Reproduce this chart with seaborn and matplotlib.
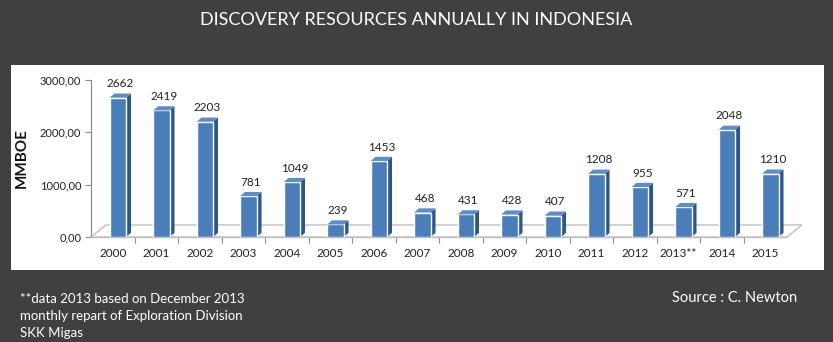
import matplotlib
matplotlib.use("Agg")
import matplotlib.pyplot as plt
import seaborn as sns
import pandas as pd
from matplotlib.patches import Polygon, Rectangle

years = ["2000", "2001", "2002", "2003", "2004", "2005", "2006", "2007",
         "2008", "2009", "2010", "2011", "2012", "2013**", "2014", "2015"]
values = [2662, 2419, 2203, 781, 1049, 239, 1453, 468, 431, 428, 407,
          1208, 955, 571, 2048, 1210]
yticks = [0, 1000, 2000, 3000]
ytick_labels = ["0,00", "1000,00", "2000,00", "3000,00"]

title = "DISCOVERY RESOURCES ANNUALLY IN INDONESIA"
note = "**data 2013 based on December 2013\nmonthly repart of Exploration Division\nSKK Migas"
source = "Source : C. Newton"

sns.set_theme(style="white")
plt.rcParams["font.family"] = ["Lato", "DejaVu Sans"]

BG = "#404040"
FRONT = "#4a7ebb"
SIDE = "#2d578a"
TOP = "#5b8dca"
FLOOR = "#bfbfbf"

fig = plt.figure(figsize=(8.33, 3.42), dpi=100, facecolor=BG)
W, H = 833, 342
fig.patches.append(Rectangle((11 / W, 1 - 270 / H), (824 - 11) / W, (270 - 65) / H,
                             transform=fig.transFigure, facecolor="white",
                             edgecolor="none", zorder=-10))

ax = fig.add_axes([91 / W, 1 - 237 / H, (787 - 91) / W, (237 - 80) / H])
ax.set_facecolor("none")
ax.set_zorder(2)

df = pd.DataFrame({"year": years, "value": values})
sns.barplot(data=df, x="year", y="value", color=FRONT, saturation=1,
            width=0.38, ax=ax, zorder=3)

ax.set_xlim(-0.5, len(years) - 0.5)
ax.set_ylim(0, 3000)

# floor (3D base)
fdx, fdy = 0.34, 230
x0, x1 = -0.5, len(years) - 0.5
floor = Polygon([(x0, 0), (x0 + fdx, fdy), (x1 + fdx, fdy), (x1, 0)], closed=True,
                facecolor="none", edgecolor=FLOOR, lw=1.0, zorder=1, clip_on=False)
ax.add_patch(floor)

# 3D faces (bars sit slightly back/right in perspective)
shift = 0.12
dx, dy = 0.11, 80
for p, v in zip(ax.patches[:len(values)], values):
    p.set_x(p.get_x() + shift)
    x = p.get_x()
    w = p.get_width()
    h = p.get_height()
    side = Polygon([(x + w, 0), (x + w + dx, dy), (x + w + dx, h + dy), (x + w, h)],
                   closed=True, facecolor=SIDE, edgecolor="none", zorder=2.9, clip_on=False)
    top = Polygon([(x, h), (x + dx, h + dy), (x + w + dx, h + dy), (x + w, h)],
                  closed=True, facecolor=TOP, edgecolor="none", zorder=3.1, clip_on=False)
    ax.add_patch(side)
    ax.add_patch(top)
    ax.text(x + w / 2 + dx / 2, h + dy + 80, f"{v}", ha="center", va="bottom",
            fontsize=8.5, color="#222222", zorder=5)

for s in ["top", "right"]:
    ax.spines[s].set_visible(False)
ax.spines["left"].set_color("#8c8c8c")
ax.spines["bottom"].set_color(FLOOR)
ax.spines["left"].set_linewidth(0.9)
ax.spines["bottom"].set_linewidth(1.0)

ax.set_yticks(yticks)
ax.set_yticklabels(ytick_labels, fontsize=8, color="#222222")
ax.set_xticks(range(len(years)))
ax.set_xticklabels(years, fontsize=8.5, color="#222222")
ax.tick_params(axis="x", length=0, pad=8)
ax.tick_params(axis="y", length=4, width=0.8, color="#8c8c8c", left=True, pad=3)
ax.set_xticks([i + 0.5 for i in range(len(years) - 1)], minor=True)
ax.tick_params(axis="x", which="minor", length=4, width=0.8, color="#8c8c8c", bottom=True)
ax.set_xlabel("")
ax.set_ylabel("MMBOE", fontsize=11, fontweight="bold", color="#111111", labelpad=8)

fig.text(416 / W, 1 - 20 / H, title, ha="center", va="center", color="white", fontsize=13)
fig.text(20 / W, 1 - 293 / H, note, ha="left", va="top", color="white", fontsize=9.5,
         linespacing=1.5)
fig.text(735 / W, 1 - 298 / H, source, ha="center", va="center", color="white", fontsize=10.5)

fig.savefig("out.png", dpi=100, facecolor=BG)
